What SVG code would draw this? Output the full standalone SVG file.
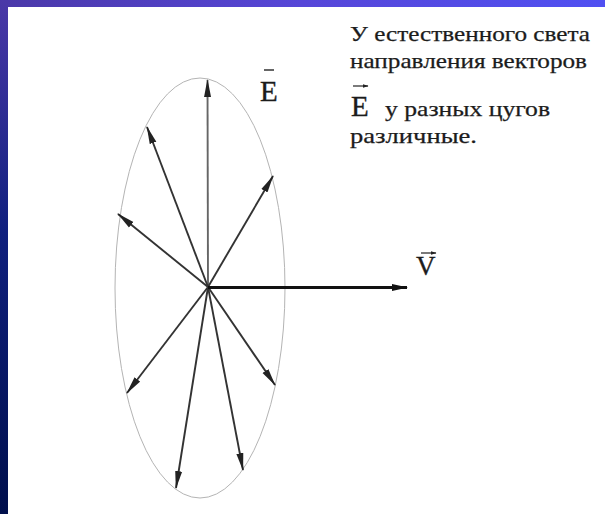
<svg xmlns="http://www.w3.org/2000/svg" width="605" height="514" viewBox="0 0 605 514">
  <defs>
    <linearGradient id="gTop" x1="0" y1="0" x2="1" y2="0">
      <stop offset="0" stop-color="#4a38a8"/>
      <stop offset="0.5" stop-color="#5646d8"/>
      <stop offset="1" stop-color="#5050f2"/>
    </linearGradient>
    <linearGradient id="gLeft" x1="0" y1="0" x2="0" y2="1">
      <stop offset="0" stop-color="#4a38a8"/>
      <stop offset="0.45" stop-color="#10207e"/>
      <stop offset="1" stop-color="#000f4c"/>
    </linearGradient>
    <marker id="ah" markerUnits="userSpaceOnUse" markerWidth="18" markerHeight="8" refX="17" refY="4" orient="auto">
      <path d="M0,0.5 L18,4 L0,7.5 z" fill="#222"/>
    </marker>
    <marker id="ahV" markerUnits="userSpaceOnUse" markerWidth="16" markerHeight="9" refX="15" refY="4.5" orient="auto">
      <path d="M0,1 L16,4.5 L0,8 z" fill="#111"/>
    </marker>
    <marker id="ahS" markerUnits="userSpaceOnUse" markerWidth="6" markerHeight="5" refX="5.5" refY="2.5" orient="auto">
      <path d="M0,0.5 L6,2.5 L0,4.5 z" fill="#222"/>
    </marker>
  </defs>
  <style>
    .t { font-family: "Liberation Serif", "DejaVu Serif", serif; fill: #1c1c1c; stroke: #1c1c1c; stroke-width: 0.35; }
    .c { font-family: "Liberation Serif", "DejaVu Serif", serif; fill: #1c1c1c; stroke: #1c1c1c; stroke-width: 0.25; }
    .vec { stroke: #333; stroke-width: 1.9; fill: none; marker-end: url(#ah); }
    .sv { stroke: #222; stroke-width: 1.2; fill: none; marker-end: url(#ahS); }
  </style>

  <rect x="0" y="0" width="605" height="514" fill="#ffffff"/>
  <rect x="0" y="0" width="605" height="7" fill="url(#gTop)"/>
  <rect x="0" y="0" width="8" height="514" fill="url(#gLeft)"/>

  <g id="ellipse">
    <ellipse cx="200" cy="288" rx="85" ry="210" fill="none" stroke="#b4b4b4" stroke-width="1"/>
  </g>

  <g id="connectors">
    <line class="vec" x1="208" y1="287" x2="207.5" y2="80" style="stroke:#666"/>
    <line class="vec" x1="208" y1="287" x2="147" y2="127"/>
    <line class="vec" x1="208" y1="287" x2="118" y2="214"/>
    <line class="vec" x1="208" y1="287" x2="273" y2="176"/>
    <line class="vec" x1="208" y1="287" x2="127" y2="393"/>
    <line class="vec" x1="208" y1="287" x2="176" y2="488"/>
    <line class="vec" x1="208" y1="287" x2="243" y2="470"/>
    <line class="vec" x1="208" y1="287" x2="275" y2="385"/>
    <line x1="208" y1="287.5" x2="407" y2="287.5" stroke="#111" stroke-width="3" marker-end="url(#ahV)"/>
  </g>

  <g id="label-E">
    <text class="t" x="260" y="101" font-size="29">E</text>
    <line x1="264" y1="70" x2="274" y2="70" stroke="#333" stroke-width="1.5"/>
  </g>

  <g id="label-V">
    <text class="t" x="416" y="275" font-size="27">V</text>
    <line class="sv" x1="421" y1="253" x2="436" y2="253"/>
  </g>

  <g id="caption">
    <text class="c" x="350" y="41" font-size="21" textLength="240" lengthAdjust="spacingAndGlyphs">У естественного света</text>
    <text class="c" x="350" y="68" font-size="21" textLength="237" lengthAdjust="spacingAndGlyphs">направления векторов</text>
    <text class="t" x="351" y="116" font-size="29">E</text>
    <line class="sv" x1="353" y1="86" x2="368" y2="86"/>
    <text class="c" x="385" y="116" font-size="21" textLength="165" lengthAdjust="spacingAndGlyphs">у разных цугов</text>
    <text class="c" x="350" y="143" font-size="21" textLength="127" lengthAdjust="spacingAndGlyphs">различные.</text>
  </g>
</svg>
